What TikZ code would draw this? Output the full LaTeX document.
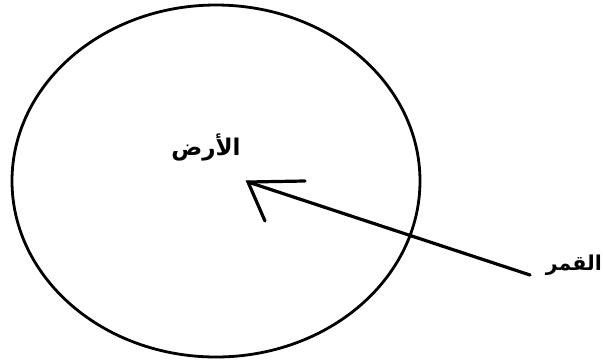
\documentclass[tikz,border=0pt]{standalone}
\usepackage{fontspec}
\usetikzlibrary{shapes.geometric}
\newfontfamily\arabicfont[Script=Arabic]{DejaVu Sans}
\TeXXeTstate=1
\begin{document}
\begin{tikzpicture}[x=1pt,y=-1pt,
  outline/.style={line width=2.8pt},
  arrowline/.style={line width=3.2pt, line cap=round, line join=miter},
  label/.style={font=\arabicfont\bfseries\fontsize{23}{26}\selectfont, inner sep=0pt}]
\useasboundingbox (0,0) rectangle (603,360);
\node[draw, outline, ellipse, minimum width=408pt, minimum height=352pt, inner sep=0pt] (earthring) at (216,181) {};
\node[label] (earth) at (206,147) {\beginR الأرض\endR};
\node[label, font=\arabicfont\bfseries\fontsize{20.5}{24}\selectfont, anchor=east] (moon) at (602,265) {\beginR القمر\endR};
\coordinate (tip) at (248,182);
\coordinate (wingA) at (305,181);
\coordinate (wingB) at (265,221);
\coordinate (tail) at (530,275);
\draw[arrowline] (tail) -- (tip);
\draw[arrowline] (wingA) -- (tip) -- (wingB);
\end{tikzpicture}
\end{document}
